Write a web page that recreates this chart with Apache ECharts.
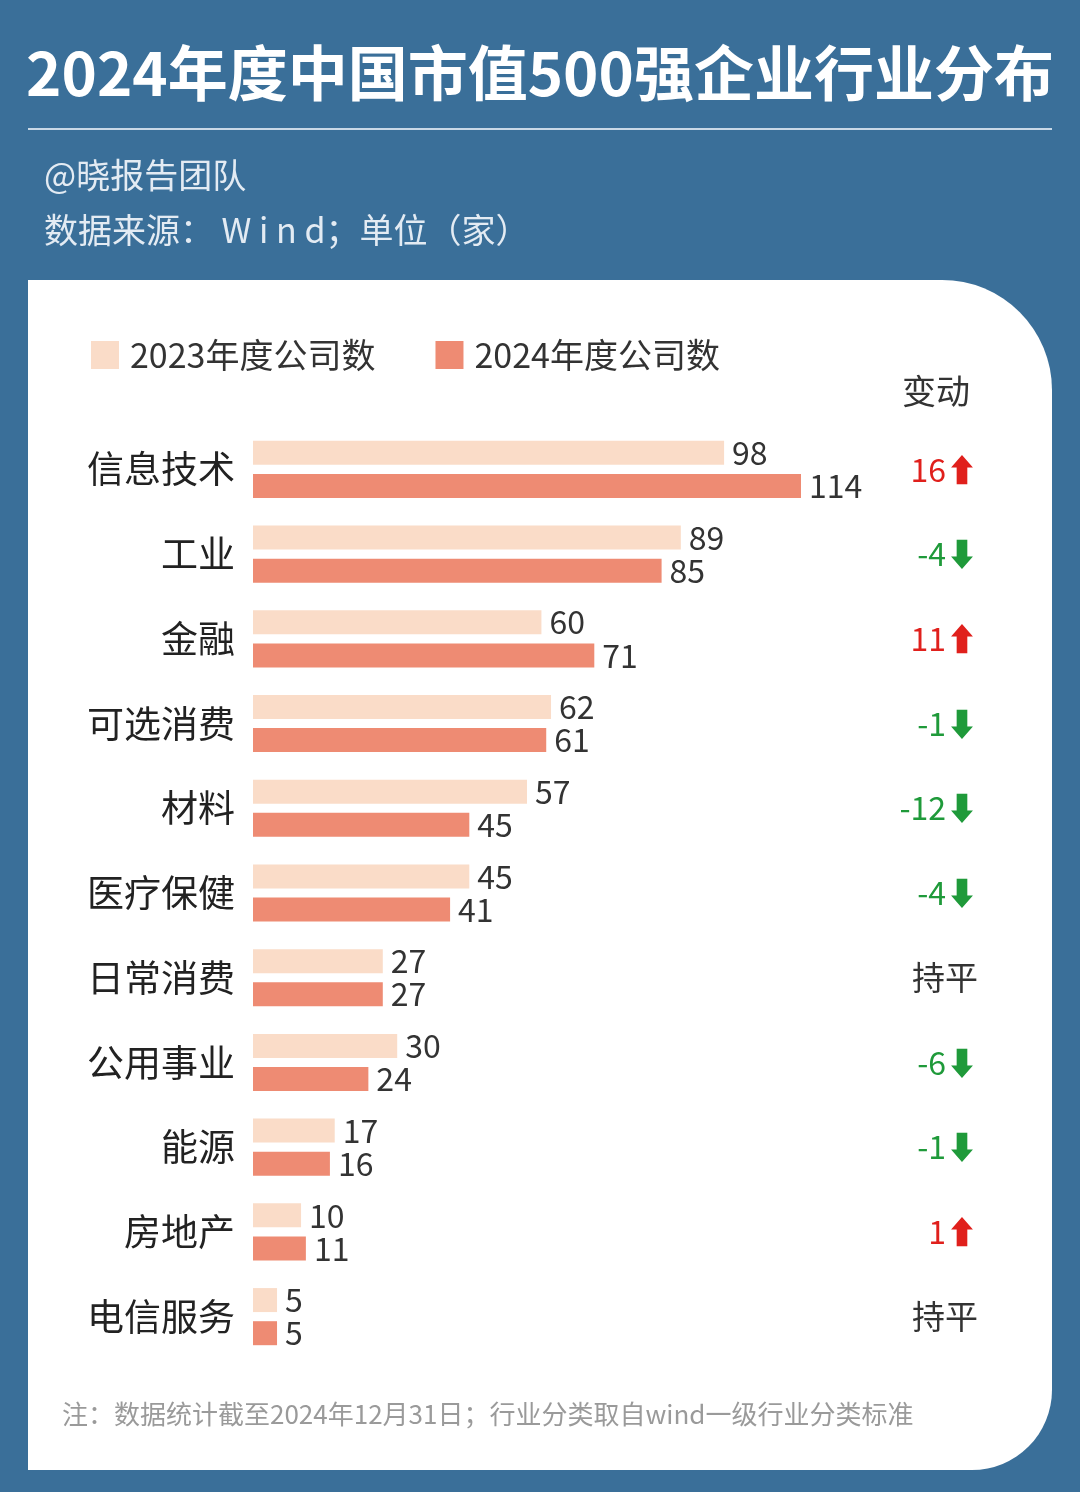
<!DOCTYPE html>
<html><head><meta charset="utf-8">
<script src="https://cdn.jsdelivr.net/npm/echarts@6/dist/echarts.min.js"></script>
<style>html,body{margin:0;padding:0;background:#3a6f99;}#c{width:1080px;height:1492px;}</style>
</head><body><div id="c"></div>
<script>
const categories = ['信息技术','工业','金融','可选消费','材料','医疗保健','日常消费','公用事业','能源','房地产','电信服务'];
const count2023 = [98,89,60,62,57,45,27,30,17,10,5];
const count2024 = [114,85,71,61,45,41,27,24,16,11,5];
const changes = [16,-4,11,-1,-12,-4,0,-6,-1,1,0];
const font = '"Noto Sans CJK SC","Noto Sans",sans-serif';
const chart = echarts.init(document.getElementById('c'));
chart.setOption({
  backgroundColor:'#3a6f99',
  textStyle:{fontFamily:font},
  graphic:[
    {type:'text',left:'center',top:43,style:{text:'2024年度中国市值500强企业行业分布',fill:'#fff',font:'bold 60px '+font}},
    {type:'rect',shape:{x:28,y:128,width:1024,height:2},style:{fill:'#c9d8e6'}},
    {type:'text',left:44,top:158,style:{text:'@晓报告团队',fill:'#e3ebf3',font:'34px '+font}},
    {type:'text',left:44,top:213,style:{text:'数据来源： W i n d；单位（家）',fill:'#e3ebf3',font:'34px '+font}},
    {type:'rect',z:-1,shape:{x:28,y:280,width:1024,height:1190,r:[0,110,80,0]},style:{fill:'#fff'}},
    {type:'text',left:902,top:374,style:{text:'变动',fill:'#333',font:'34px '+font}},
    {type:'text',left:62,top:1401,style:{text:'注：数据统计截至2024年12月31日；行业分类取自wind一级行业分类标准',fill:'#9a9a9a',font:'26px '+font}}
  ],
  legend:{top:333,left:86,itemWidth:28,itemHeight:28,itemGap:60,icon:'rect',
    textStyle:{fontSize:34,color:'#333',fontFamily:font,padding:[0,0,0,6]},data:['2023年度公司数','2024年度公司数']},
  grid:{left:253,width:548,top:427,height:932},
  xAxis:{type:'value',min:0,max:114,show:false},
  yAxis:[
    {type:'category',inverse:true,data:categories,axisLine:{show:false},axisTick:{show:false},
     axisLabel:{fontSize:37,color:'#222',margin:18,fontFamily:font}},
    {type:'category',inverse:true,position:'right',data:changes.map(String),axisLine:{show:false},axisTick:{show:false},
     axisLabel:{margin:177,align:'right',fontFamily:font,
       formatter:(v)=>{const n=+v; if(n>0) return '{up|'+n+'}{ua|⬆}'; if(n<0) return '{dn|'+n+'}{da|⬇}'; return '{eq|持平}';},
       rich:{up:{fontSize:32,color:'#e0201c'},ua:{fontSize:32,color:'#e0201c'},
             dn:{fontSize:32,color:'#1f9a3a'},da:{fontSize:32,color:'#1f9a3a'},
             eq:{fontSize:33,color:'#333'}}}}
  ],
  series:[
    {name:'2023年度公司数',type:'bar',data:count2023,barWidth:24,barGap:'38%',itemStyle:{color:'#fadcc8'},
     label:{show:true,position:'right',distance:8,fontSize:32,color:'#333',fontFamily:font}},
    {name:'2024年度公司数',type:'bar',data:count2024,barWidth:24,itemStyle:{color:'#ee8b73'},
     label:{show:true,position:'right',distance:8,fontSize:32,color:'#333',fontFamily:font}}
  ]
});
</script></body></html>
